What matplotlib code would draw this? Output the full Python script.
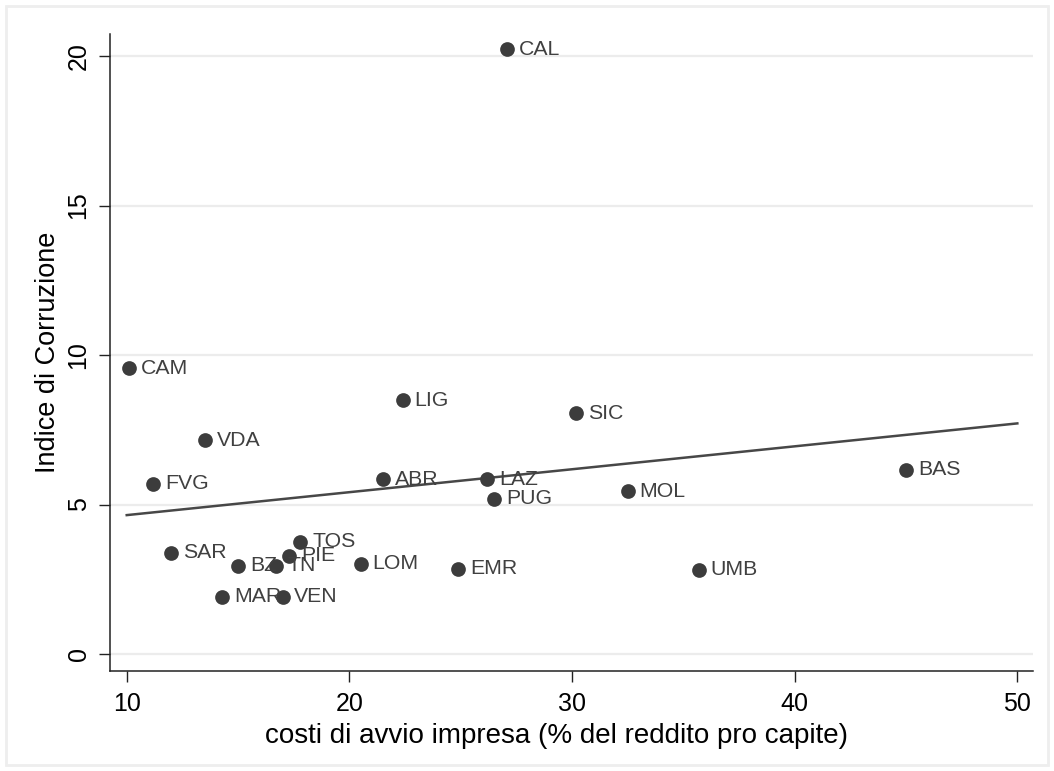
import matplotlib.pyplot as plt
import numpy as np
from matplotlib.patches import Rectangle

plt.rcParams['font.family'] = ['Liberation Sans', 'DejaVu Sans']

# regional data
regions = ["CAL", "CAM", "LIG", "SIC", "VDA", "FVG", "ABR", "LAZ", "PUG", "MOL", "BAS",
           "TOS", "SAR", "PIE", "BZ", "TN", "LOM", "EMR", "UMB", "MAR", "VEN"]
costi = [27.1, 10.1, 22.4, 30.2, 13.5, 11.2, 21.5, 26.2, 26.5, 32.5, 45.0,
         17.8, 12.0, 17.3, 15.0, 16.7, 20.5, 24.9, 35.7, 14.3, 17.0]
corruzione = [20.23, 9.56, 8.49, 8.05, 7.15, 5.70, 5.84, 5.84, 5.20, 5.44, 6.17,
              3.76, 3.39, 3.29, 2.95, 2.95, 3.02, 2.85, 2.82, 1.91, 1.91]

x_ticks = [10, 20, 30, 40, 50]
y_ticks = [0, 5, 10, 15, 20]
fit_range = [10, 50]

DARK = "#3c3c3c"

fig = plt.figure(figsize=(10.54, 7.71), dpi=100)
fig.patches.append(Rectangle((0.006, 0.008), 0.988, 0.984, transform=fig.transFigure,
                             fill=False, edgecolor="#eeeeee", linewidth=2))
ax = fig.add_axes([0.1044, 0.1297, 0.8756, 0.8262])

# horizontal grid
for yt in y_ticks:
    ax.axhline(yt, color="#ececec", linewidth=1.6, zorder=0)

ax.scatter(costi, corruzione, s=112, color=DARK, zorder=3, linewidths=0)
for name, xv, yv in zip(regions, costi, corruzione):
    ax.annotate(name, (xv, yv), xytext=(8.5, 0), textcoords="offset points",
                ha="left", va="center", fontsize=15.3, color="#404040", zorder=4)

# linear fit
slope, intercept = np.polyfit(costi, corruzione, 1)
xf = np.array(fit_range, dtype=float)
ax.plot(xf, intercept + slope * xf, color="#474747", linewidth=1.8, zorder=2)

ax.set_xlim(9.25, 50.7)
ax.set_ylim(-0.57, 20.74)
ax.set_xticks(x_ticks)
ax.set_yticks(y_ticks)
ax.set_yticklabels([str(v) for v in y_ticks], rotation=90, va="center")
ax.tick_params(axis="both", direction="out", length=8, width=1, color="#222222",
               labelsize=18, labelcolor="#000000")
ax.tick_params(axis="x", pad=7)
ax.tick_params(axis="y", pad=6)

for side in ["top", "right"]:
    ax.spines[side].set_visible(False)
for side in ["left", "bottom"]:
    ax.spines[side].set_color("#222222")
    ax.spines[side].set_linewidth(1.1)

ax.set_xlabel("costi di avvio impresa (% del reddito pro capite)", fontsize=20)
ax.xaxis.set_label_coords(0.484, -0.082)
ax.set_ylabel("Indice di Corruzione", fontsize=19.5, labelpad=4)

fig.savefig("out.png", dpi=100, facecolor="white")
